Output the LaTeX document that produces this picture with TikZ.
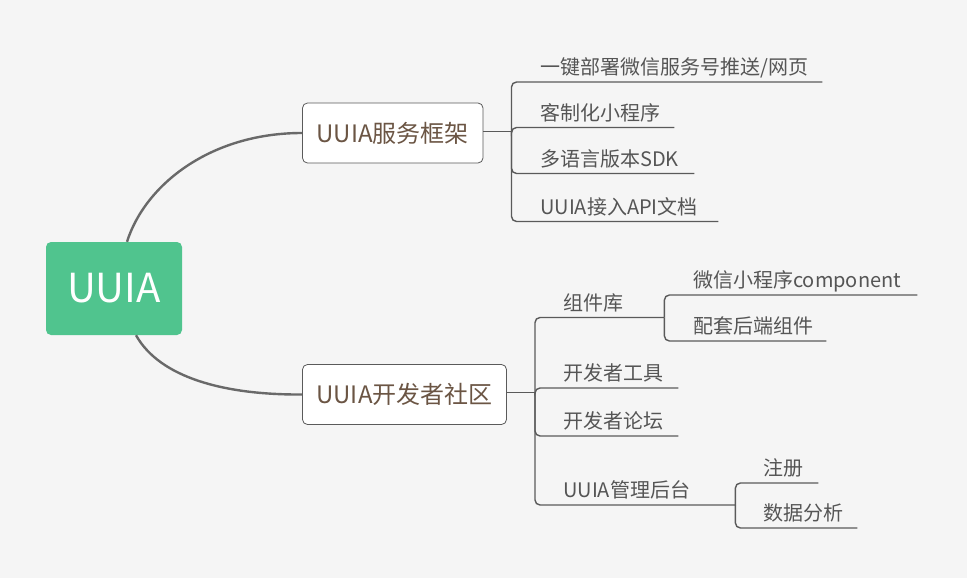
\documentclass[tikz,border=0pt]{standalone}
\usepackage{fontspec}
\setmainfont{Noto Sans CJK SC}
\definecolor{mmgreen}{RGB}{80,196,142}
\definecolor{mmline}{RGB}{105,105,105}
\definecolor{mmtwig}{RGB}{90,90,90}
\definecolor{mmtext}{RGB}{85,85,85}
\definecolor{mmbrown}{RGB}{107,85,68}
\definecolor{mmbg}{RGB}{245,245,245}

\begin{document}
\begin{tikzpicture}[x=1pt,y=-1pt,
  rootbox/.style={fill=mmgreen, text=white, rounded corners=5pt, minimum width=136pt, minimum height=93pt, font=\fontsize{40}{40}\selectfont},
  hubbox/.style={draw=mmtwig, fill=white, line width=0.8pt, text=mmbrown, rounded corners=5pt, minimum height=60pt, inner xsep=0pt, font=\fontsize{24}{24}\selectfont},
  leaf/.style={anchor=south west, text=mmtext, inner xsep=0pt, inner ysep=5pt, text height=15pt, text depth=2pt, align=left, font=\fontsize{20}{20}\selectfont},
  trunk/.style={draw=mmline, line width=2.4pt},
  twig/.style={draw=mmtwig, line width=1.4pt, rounded corners=5pt}]
\fill[mmbg] (0,0) rectangle (967,578);
\useasboundingbox (0,0) rectangle (967,578);

% Root and the two hubs
\node[rootbox] (uuia) at (114,288.5) {UUIA};
\node[hubbox, minimum width=180.5pt] (fw) at (392.75,133) {UUIA服务框架};
\node[hubbox, minimum width=204pt] (dev) at (404.5,394.5) {UUIA开发者社区};

\draw[trunk] ([xshift=13pt]uuia.north) .. controls (145,185) and (210,133) .. (fw.west);
\draw[trunk] ([xshift=22pt]uuia.south) .. controls (160,378) and (225,395) .. (dev.west);

% Service framework branch
\coordinate (fwj) at (511.5,131.5);
\node[leaf, text width=282pt] (push) at (540,82) {一键部署微信服务号推送/网页};
\node[leaf, text width=134pt] (mini) at (540,127.5) {客制化小程序};
\node[leaf, text width=154pt] (sdk) at (540,173.5) {多语言版本SDK};
\node[leaf, text width=178pt] (api) at (540,221.5) {UUIA接入API文档};

\draw[twig] (fw.east |- fwj) -- (fwj);
\draw[twig] (fwj) |- (push.south east);
\draw[twig] (fwj) |- (mini.south east);
\draw[twig] (fwj) |- (sdk.south east);
\draw[twig] (fwj) |- (api.south east);

% Developer community branch
\coordinate (devj) at (535,392.5);
\node[leaf, text width=101pt] (lib) at (563,317.5) {组件库};
\node[leaf, text width=115pt] (tools) at (563,388) {开发者工具};
\node[leaf, text width=115pt] (forum) at (563,436) {开发者论坛};
\node[leaf, text width=172pt] (admin) at (563,505) {UUIA管理后台};

\draw[twig] (dev.east |- devj) -- (devj);
\draw[twig] (devj) |- (lib.south east);
\draw[twig] (devj) |- (tools.south east);
\draw[twig] (devj) |- (forum.south east);
\draw[twig] (devj) |- (admin.south east);

% Component library
\node[leaf, text width=224pt] (comp) at (693,295) {微信小程序component};
\node[leaf, text width=133pt] (backend) at (693,341) {配套后端组件};
\draw[twig] (lib.south east) |- (comp.south east);
\draw[twig] (lib.south east) |- (backend.south east);

% Admin backend
\node[leaf, text width=55pt] (reg) at (763,483) {注册};
\node[leaf, text width=94pt] (stats) at (763,528) {数据分析};
\draw[twig] (admin.south east) |- (reg.south east);
\draw[twig] (admin.south east) |- (stats.south east);
\end{tikzpicture}
\end{document}
